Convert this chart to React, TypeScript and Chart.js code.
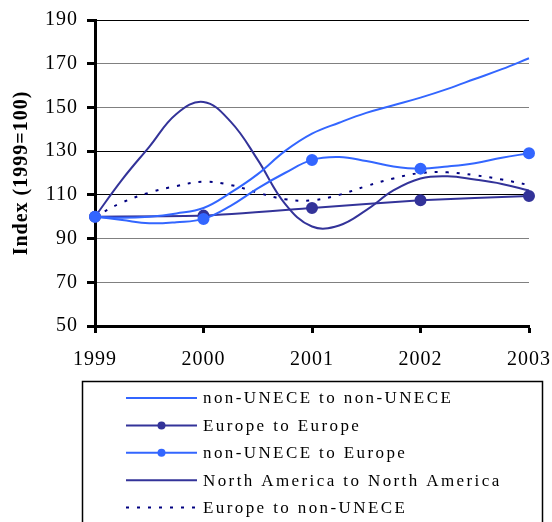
import React, { useEffect, useRef } from "react";
import { Chart, registerables } from "chart.js";

Chart.register(...registerables);

// ---- Data ----
const QUARTERS = [1999, 1999.25, 1999.5, 1999.75, 2000, 2000.25, 2000.5, 2000.75, 2001, 2001.25, 2001.5, 2001.75, 2002, 2002.25, 2002.5, 2002.75, 2003];
const YEARS = [1999, 2000, 2001, 2002, 2003];
const X_TICK_LABELS = ["1999", "2000", "2001", "2002", "2003"];
const Y_TICKS = [50, 70, 90, 110, 130, 150, 170, 190];

const nonUneceToNonUnece = [100, 99.5, 100, 101.5, 104, 111, 119.5, 130, 138, 143, 147.5, 151, 154.5, 158.5, 163, 167.5, 172.5];
const europeToEurope = [100, 100.5, 104, 107.5, 109.5];
const nonUneceToEurope = [100, 98.5, 97, 97.5, 99, 105, 113, 120, 126, 127.3, 125.5, 123, 122, 123, 124.5, 127, 129];
const northAmericaToNorthAmerica = [100, 117, 132, 147, 152.5, 143.5, 126, 106, 95.5, 96, 103, 112, 117.5, 118.5, 117, 115, 112];
const europeToNonUnece = [100, 106.5, 111, 114, 116, 114.5, 111, 108, 107.5, 110, 114, 117.5, 120, 120.3, 119, 117, 114.5];

const LIGHT_BLUE = "#3366FF";
const DARK_BLUE = "#333399";
const NAVY = "#000080";
const SERIF = "'Liberation Serif', 'Times New Roman', serif";

const toPoints = (xs: number[], ys: number[]) => xs.map((x, i) => ({ x, y: ys[i] }));

const legendPlugin = {
  id: "boxLegend",
  beforeDraw(chart: any) {
    (chart.ctx as any).letterSpacing = "1px";
  },
  afterDraw(chart: any) {
    const ctx = chart.ctx as any;
    ctx.save();
    ctx.letterSpacing = "0px";
    ctx.strokeStyle = "#000";
    ctx.lineWidth = 1.5;
    ctx.strokeRect(82.5, 381.5, 460, 160);
    const rowStart = 398;
    const rowStep = 27.4;
    const lx0 = 126;
    const lx1 = 197;
    chart.data.datasets.forEach((ds: any, i: number) => {
      const y = rowStart + i * rowStep;
      ctx.save();
      ctx.strokeStyle = ds.borderColor;
      ctx.lineWidth = ds.borderWidth;
      ctx.setLineDash(ds.borderDash || []);
      ctx.beginPath();
      ctx.moveTo(lx0, y);
      ctx.lineTo(lx1, y);
      ctx.stroke();
      ctx.restore();
      if (ds.showMarker) {
        ctx.fillStyle = ds.borderColor;
        ctx.beginPath();
        ctx.arc((lx0 + lx1) / 2, y, 4, 0, Math.PI * 2);
        ctx.fill();
      }
      ctx.fillStyle = "#000";
      ctx.font = `17px ${SERIF}`;
      ctx.letterSpacing = "2.4px";
      ctx.textBaseline = "middle";
      ctx.textAlign = "left";
      ctx.fillText(ds.label, 203, y + 1);
      ctx.letterSpacing = "0px";
    });
    ctx.restore();
  },
};

export default function App() {
  const ref = useRef<HTMLCanvasElement | null>(null);

  useEffect(() => {
    const prevMargin = document.body.style.margin;
    document.body.style.margin = "0";
    if (!ref.current) return;
    const chart = new Chart(ref.current, {
      type: "line",
      data: {
        datasets: [
          {
            label: "non-UNECE to non-UNECE",
            data: toPoints(QUARTERS, nonUneceToNonUnece),
            borderColor: LIGHT_BLUE,
            backgroundColor: LIGHT_BLUE,
            borderWidth: 2,
            pointRadius: 0,
            tension: 0.4,
            clip: false,
          },
          {
            label: "Europe to Europe",
            data: toPoints(YEARS, europeToEurope),
            borderColor: DARK_BLUE,
            backgroundColor: DARK_BLUE,
            pointBackgroundColor: DARK_BLUE,
            pointBorderColor: DARK_BLUE,
            borderWidth: 2,
            pointRadius: 5,
            tension: 0.2,
            clip: false,
            showMarker: true,
            order: 2,
          },
          {
            label: "non-UNECE to Europe",
            data: toPoints(QUARTERS, nonUneceToEurope),
            borderColor: LIGHT_BLUE,
            backgroundColor: LIGHT_BLUE,
            pointBackgroundColor: LIGHT_BLUE,
            pointBorderColor: LIGHT_BLUE,
            borderWidth: 2,
            pointRadius: (c: any) => (Number.isInteger(c.raw?.x) ? 5 : 0),
            tension: 0.4,
            clip: false,
            showMarker: true,
            order: 0,
          },
          {
            label: "North America to North America",
            data: toPoints(QUARTERS, northAmericaToNorthAmerica),
            borderColor: DARK_BLUE,
            backgroundColor: DARK_BLUE,
            borderWidth: 2,
            pointRadius: 0,
            tension: 0.4,
            clip: false,
          },
          {
            label: "Europe to non-UNECE",
            data: toPoints(QUARTERS, europeToNonUnece),
            borderColor: NAVY,
            backgroundColor: NAVY,
            borderWidth: 2,
            borderDash: [3, 8],
            pointRadius: 0,
            tension: 0.4,
            clip: false,
          },
        ] as any,
      },
      options: {
        responsive: false,
        animation: false,
        events: [],
        layout: { padding: { top: 20, right: 23, bottom: 146, left: 0 } },
        plugins: {
          legend: { display: false },
          tooltip: { enabled: false },
        },
        scales: {
          x: {
            type: "linear",
            min: 1999,
            max: 2003,
            afterFit: (s: any) => {
              s.height = 50;
              s.paddingLeft = 0;
              s.paddingRight = 0;
            },
            afterBuildTicks: (s: any) => {
              s.ticks = YEARS.map((v) => ({ value: v }));
            },
            ticks: {
              autoSkip: false,
              maxRotation: 0,
              padding: 15,
              color: "#000",
              font: { family: SERIF, size: 20 },
              callback: (v: any) => X_TICK_LABELS[YEARS.indexOf(Number(v))] ?? "",
            },
            grid: {
              drawOnChartArea: false,
              drawTicks: true,
              tickLength: 7,
              tickWidth: 3,
              tickColor: "#000",
            },
            border: { color: "#000", width: 3 },
          },
          y: {
            type: "linear",
            min: 50,
            max: 190,
            afterFit: (s: any) => {
              s.width = 95;
              s.paddingTop = 0;
              s.paddingBottom = 0;
            },
            afterBuildTicks: (s: any) => {
              s.ticks = Y_TICKS.map((v) => ({ value: v }));
            },
            ticks: {
              padding: 9,
              color: "#000",
              font: { family: SERIF, size: 20 },
              callback: (v: any) => String(v),
            },
            grid: {
              lineWidth: 1,
              color: (c: any) => ([190, 130, 110].includes(c.tick?.value) ? "#000" : "#808080"),
              tickLength: 8,
              tickWidth: 3,
              tickColor: "#000",
            },
            border: { color: "#000", width: 3 },
            title: {
              display: true,
              text: "Index (1999=100)",
              color: "#000",
              font: { family: SERIF, size: 20, weight: "bold" },
              padding: { top: 10, bottom: 0 },
            },
          },
        },
      } as any,
      plugins: [legendPlugin],
    });
    return () => {
      chart.destroy();
      document.body.style.margin = prevMargin;
    };
  }, []);

  return (
    <div style={{ width: 552, height: 522, overflow: "hidden" }}>
      <canvas ref={ref} width={552} height={522} style={{ display: "block", width: 552, height: 522 }} />
    </div>
  );
}
